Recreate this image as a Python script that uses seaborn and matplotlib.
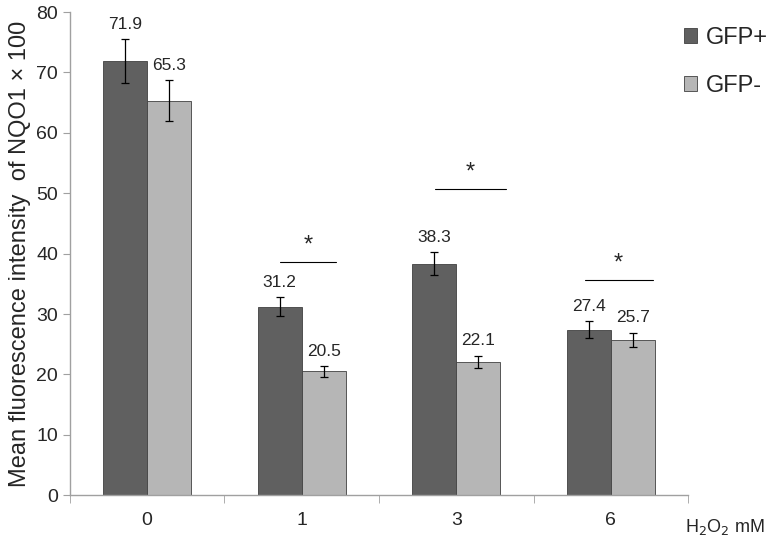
import numpy as np
import pandas as pd
import seaborn as sns
import matplotlib.pyplot as plt

doses = ['0', '1', '3', '6']
gfp_pos = [71.9, 31.2, 38.3, 27.4]
gfp_neg = [65.3, 20.5, 22.1, 25.7]
err_pos = [3.6, 1.6, 1.9, 1.4]
err_neg = [3.4, 0.9, 1.0, 1.2]
# significance bars: group index, height, left/right offsets from group centre
sig_groups = [1, 2, 3]
sig_heights = [38.6, 50.7, 35.6]
sig_left = [-0.14, -0.14, -0.17]
sig_right = [0.22, 0.32, 0.27]

df = pd.DataFrame({
    'dose': doses * 2,
    'value': gfp_pos + gfp_neg,
    'group': ['GFP+'] * 4 + ['GFP-'] * 4,
})

sns.set_style('white')
plt.rcParams['font.family'] = ['Liberation Sans', 'DejaVu Sans']

fig = plt.figure(figsize=(7.68, 5.46), dpi=100)
ax = fig.add_axes([0.091, 0.093, 0.805, 0.885])

sns.barplot(data=df, x='dose', y='value', hue='group', ax=ax,
            palette=['#606060', '#b6b6b6'], width=0.57, errorbar=None,
            edgecolor='#404040', linewidth=0.6, saturation=1)

errs = err_pos + err_neg
vals = gfp_pos + gfp_neg
for patch, v, e in zip(ax.patches, vals, errs):
    cx = patch.get_x() + patch.get_width() / 2
    ax.errorbar(cx, v, yerr=e, fmt='none', ecolor='black', elinewidth=0.9,
                capsize=3, capthick=0.9)
    ax.text(cx, v + e + 1.2, f'{v:.1f}', ha='center', va='bottom', fontsize=12.5)

for g, h, l, r in zip(sig_groups, sig_heights, sig_left, sig_right):
    ax.plot([g + l, g + r], [h, h], color='black', lw=0.8)
    ax.text(g + (l + r) / 2, h + 0.9, '*', ha='center', va='bottom', fontsize=17)

ax.set_ylim(0, 80)
ax.set_xlim(-0.5, 3.5)
ax.set_yticks(range(0, 81, 10))
ax.set_xlabel('')
ax.set_ylabel('Mean fluorescence intensity  of NQO1 × 100', fontsize=17)
ax.tick_params(axis='y', labelsize=14, length=5, color='#a0a0a0', left=True)
ax.tick_params(axis='x', labelsize=14, length=0, pad=12)
ax.set_xticks([-0.5, 0.5, 1.5, 2.5, 3.5], minor=True)
ax.tick_params(axis='x', which='minor', length=6, color='#a0a0a0', bottom=True)
for s in ['top', 'right']:
    ax.spines[s].set_visible(False)
for s in ['left', 'bottom']:
    ax.spines[s].set_color('#a0a0a0')
    ax.spines[s].set_linewidth(1)

ax.text(0.995, -0.065, r'H$_2$O$_2$ mM', transform=ax.transAxes, fontsize=13,
        ha='left', va='center')

handles, labels = ax.get_legend_handles_labels()
ax.legend_.remove()
fig.legend(handles, labels, loc='upper left', bbox_to_anchor=(0.878, 0.968),
           frameon=False, fontsize=17, handlelength=0.55, handleheight=0.55,
           labelspacing=1.1, handletextpad=0.4, borderaxespad=0)

fig.savefig('out.png', dpi=100)
